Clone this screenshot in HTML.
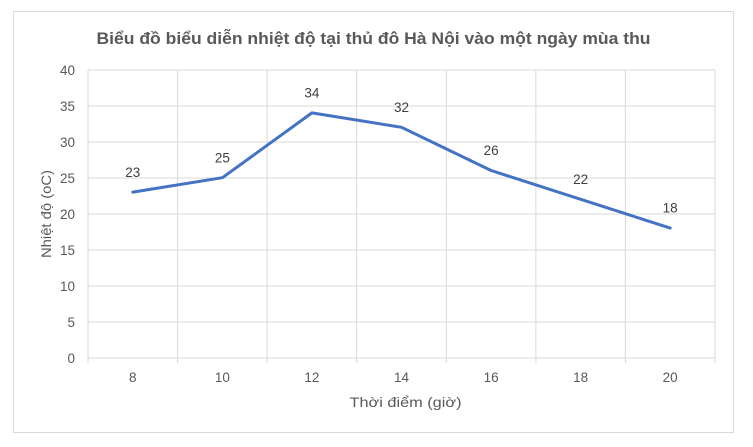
<!DOCTYPE html>
<html>
<head>
<meta charset="utf-8">
<style>
  html,body{margin:0;padding:0;background:#fff;}
  svg{display:block;}
  text{font-family:"Liberation Sans","DejaVu Sans",sans-serif;}
</style>
</head>
<body>
<svg width="753" height="447" viewBox="0 0 753 447" xmlns="http://www.w3.org/2000/svg">
  <rect x="0" y="0" width="753" height="447" fill="#fff"/>
  <rect x="13.5" y="11.5" width="720" height="421" fill="#fff" stroke="#d9d9d9" stroke-width="1"/>

  <!-- Title -->
  <text x="96.5" y="44" font-size="16.5" font-weight="bold" fill="#595959" textLength="554" lengthAdjust="spacingAndGlyphs">Biểu đồ biểu diễn nhiệt độ tại thủ đô Hà Nội vào một ngày mùa thu</text>

  <!-- Horizontal gridlines -->
  <g stroke="#d9d9d9" stroke-width="1">
    <line x1="88" y1="70" x2="715" y2="70"/>
    <line x1="88" y1="106" x2="715" y2="106"/>
    <line x1="88" y1="142" x2="715" y2="142"/>
    <line x1="88" y1="178" x2="715" y2="178"/>
    <line x1="88" y1="214" x2="715" y2="214"/>
    <line x1="88" y1="250" x2="715" y2="250"/>
    <line x1="88" y1="286" x2="715" y2="286"/>
    <line x1="88" y1="322" x2="715" y2="322"/>
    <line x1="88" y1="358" x2="715" y2="358"/>
    <!-- vertical gridlines + ticks -->
    <line x1="88" y1="70" x2="88" y2="363"/>
    <line x1="177.6" y1="70" x2="177.6" y2="363"/>
    <line x1="267.1" y1="70" x2="267.1" y2="363"/>
    <line x1="356.7" y1="70" x2="356.7" y2="363"/>
    <line x1="446.3" y1="70" x2="446.3" y2="363"/>
    <line x1="535.9" y1="70" x2="535.9" y2="363"/>
    <line x1="625.4" y1="70" x2="625.4" y2="363"/>
    <line x1="715" y1="70" x2="715" y2="363"/>
  </g>

  <!-- Y tick labels -->
  <g font-size="13.5" fill="#595959" text-anchor="end">
    <text x="75" y="75">40</text>
    <text x="75" y="111">35</text>
    <text x="75" y="147">30</text>
    <text x="75" y="183">25</text>
    <text x="75" y="219">20</text>
    <text x="75" y="255">15</text>
    <text x="75" y="291">10</text>
    <text x="75" y="327">5</text>
    <text x="75" y="363">0</text>
  </g>

  <!-- X tick labels -->
  <g font-size="13.5" fill="#595959" text-anchor="middle">
    <text x="132.8" y="382">8</text>
    <text x="222.4" y="382">10</text>
    <text x="311.9" y="382">12</text>
    <text x="401.5" y="382">14</text>
    <text x="491.1" y="382">16</text>
    <text x="580.7" y="382">18</text>
    <text x="670.2" y="382">20</text>
  </g>

  <!-- Axis titles -->
  <text x="405.5" y="407" font-size="14" fill="#595959" text-anchor="middle" textLength="112" lengthAdjust="spacingAndGlyphs">Thời điểm (giờ)</text>
  <text transform="translate(51,214) rotate(-90)" font-size="14" fill="#595959" text-anchor="middle" textLength="88" lengthAdjust="spacingAndGlyphs">Nhiệt độ (oC)</text>

  <!-- Series line -->
  <polyline points="132.8,192.1 222.4,177.7 311.9,112.9 401.5,127.3 491.1,170.5 580.7,199.3 670.2,228.1"
    fill="none" stroke="#4472c4" stroke-width="3" stroke-linejoin="round" stroke-linecap="round"/>

  <!-- Data labels -->
  <g font-size="13.5" fill="#404040" text-anchor="middle">
    <text x="132.8" y="177">23</text>
    <text x="222.4" y="162.5">25</text>
    <text x="311.9" y="97.5">34</text>
    <text x="401.5" y="112">32</text>
    <text x="491.1" y="155">26</text>
    <text x="580.7" y="184">22</text>
    <text x="670.2" y="212.5">18</text>
  </g>
</svg>
</body>
</html>
